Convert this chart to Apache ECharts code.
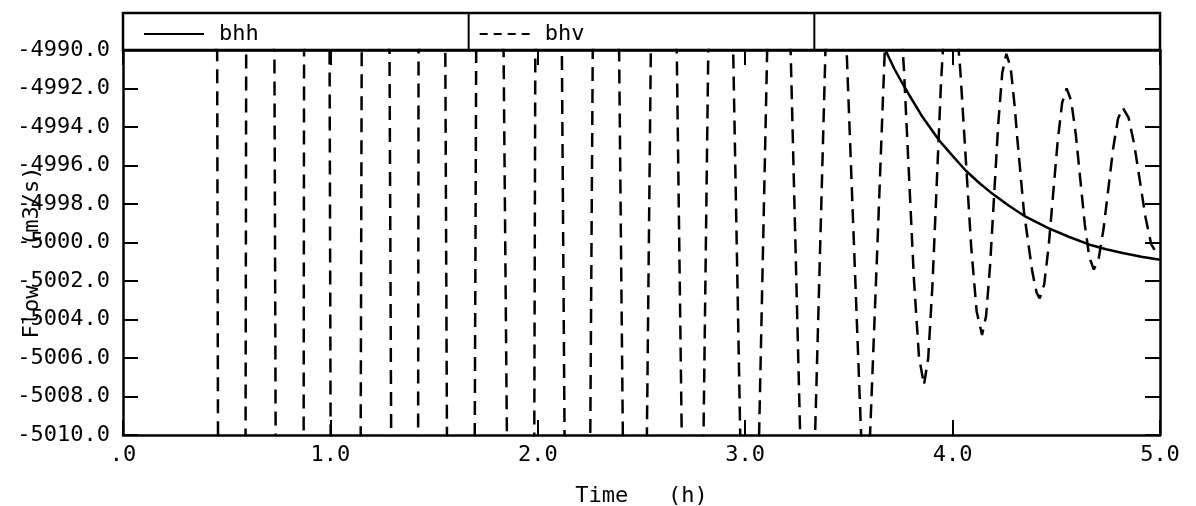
<!DOCTYPE html>
<html>
<head>
<meta charset="utf-8">
<script src="https://cdn.jsdelivr.net/npm/echarts@6/dist/echarts.min.js"></script>
<style>
html,body{margin:0;padding:0;background:#fff;}
#chart{width:1196px;height:506px;}
</style>
</head>
<body>
<div id="chart"></div>
<script>
// ---- data ----
const seriesNames = ['bhh', 'bhv'];
const xTickValues = [0, 1, 2, 3, 4, 5];
const xTickLabels = ['.0', '1.0', '2.0', '3.0', '4.0', '5.0'];
const yTickValues = [-5010, -5008, -5006, -5004, -5002, -5000, -4998, -4996, -4994, -4992, -4990];
const yTickLabels = ['-5010.0', '-5008.0', '-5006.0', '-5004.0', '-5002.0', '-5000.0', '-4998.0', '-4996.0', '-4994.0', '-4992.0', '-4990.0'];

// bhh (solid)
const bhhTime = [3.676, 3.72, 3.772, 3.85, 3.934, 4.0, 4.063, 4.13, 4.191, 4.27, 4.352, 4.464, 4.56, 4.657, 4.74, 4.82, 4.91, 5.0];
const bhhFlow = [-4990.0, -4991.0, -4992.0, -4993.4, -4994.68, -4995.5, -4996.26, -4996.92, -4997.46, -4998.08, -4998.66, -4999.27, -4999.7, -5000.1, -5000.35, -5000.55, -5000.74, -5000.9];

// bhv (dashed): crossing points of the clipped swings, then the visible damped waves
const bhvTime = [
  0.000,
  0.454, 0.458, 0.525,
  0.591, 0.594, 0.662,
  0.730, 0.736, 0.803,
  0.871, 0.873, 0.935,
  0.996, 1.001, 1.073,
  1.146, 1.151, 1.218,
  1.285, 1.293, 1.358,
  1.423, 1.425, 1.490,
  1.554, 1.562, 1.629,
  1.696, 1.703, 1.769,
  1.835, 1.851, 1.917,
  1.983, 1.988, 2.052,
  2.116, 2.129, 2.191,
  2.253, 2.265, 2.329,
  2.392, 2.410, 2.468,
  2.526, 2.545, 2.608,
  2.670, 2.694, 2.747,
  2.799, 2.822, 2.882,
  2.942, 2.976, 3.022,
  3.067, 3.106, 3.163,
  3.219, 3.265, 3.301,
  3.337, 3.387, 3.438,
  3.489, 3.524, 3.559, 3.580,
  3.602, 3.638, 3.673, 3.717,
  3.7412, 3.7653, 3.7895, 3.8137, 3.8378, 3.862,
  3.8825, 3.903, 3.9235, 3.944, 3.9645, 3.985,
  4.0112, 4.0373, 4.0635, 4.0897, 4.1158, 4.142,
  4.1615, 4.181, 4.2005, 4.22, 4.2395, 4.259,
  4.28, 4.30, 4.312, 4.344, 4.384, 4.405, 4.420,
  4.4417, 4.4633, 4.485, 4.5067, 4.5283, 4.550,
  4.5718, 4.5937, 4.6155, 4.6373, 4.6592, 4.681,
  4.7043, 4.7277, 4.751, 4.7743, 4.7977, 4.821,
  4.8483, 4.8757, 4.903, 4.9303, 4.9577, 4.985,
  5.0
];
const bhvFlow = [
  -4985.0,
  -4990.0, -5010.0, -5012.0,
  -5010.0, -4990.0, -4988.0,
  -4990.0, -5010.0, -5012.0,
  -5010.0, -4990.0, -4988.0,
  -4990.0, -5010.0, -5012.0,
  -5010.0, -4990.0, -4988.0,
  -4990.0, -5010.0, -5012.0,
  -5010.0, -4990.0, -4988.0,
  -4990.0, -5010.0, -5012.0,
  -5010.0, -4990.0, -4988.0,
  -4990.0, -5010.0, -5012.0,
  -5010.0, -4990.0, -4988.0,
  -4990.0, -5010.0, -5012.0,
  -5010.0, -4990.0, -4988.0,
  -4990.0, -5010.0, -5012.0,
  -5010.0, -4990.0, -4988.0,
  -4990.0, -5010.0, -5012.0,
  -5010.0, -4990.0, -4988.0,
  -4990.0, -5010.0, -5011.5,
  -5010.0, -4990.0, -4988.5,
  -4990.0, -5010.0, -5011.0,
  -5010.0, -4990.0, -4987.5,
  -4990.0, -5000.0, -5010.0, -5010.5,
  -5010.0, -5000.0, -4990.0, -4985.5,
  -4986.97, -4990.98, -4996.45, -5001.93, -5005.93, -5007.4,
  -5006.0, -5002.18, -4996.95, -4991.73, -4987.9, -4986.5,
  -4987.73, -4991.08, -4995.65, -5000.23, -5003.57, -5004.8,
  -5003.82, -5001.15, -4997.5, -4993.85, -4991.18, -4990.2,
  -4990.9, -4993.0, -4994.6, -4998.4, -5001.5, -5002.6, -5002.9,
  -5002.17, -5000.18, -4997.45, -4994.73, -4992.73, -4992.0,
  -4992.63, -4994.35, -4996.7, -4999.05, -5000.77, -5001.4,
  -5000.84, -4999.3, -4997.2, -4995.1, -4993.56, -4993.0,
  -4993.51, -4994.9, -4996.8, -4998.7, -5000.09, -5000.6,
  -5000.55
];

// ---- layout ----
const FONT = '"DejaVu Sans Mono", "Liberation Mono", monospace';
const FS = 22;
const G = { left: 123, top: 50, width: 1037, height: 385 };
const legendTop = 13;

const chart = echarts.init(document.getElementById('chart'), null, { renderer: 'canvas' });

const axisLineStyle = { color: '#000', width: 2.5 };
const tickStyle = { color: '#000', width: 2 };

const xLabel = v => { const i = xTickValues.indexOf(Math.round(v * 1000) / 1000); return i >= 0 ? xTickLabels[i] : ''; };
const yLabel = v => { const i = yTickValues.indexOf(Math.round(v)); return i >= 0 ? yTickLabels[i] : ''; };

const cellW = G.width / 3;
const n = Math.min(bhvTime.length, bhvFlow.length);

chart.setOption({
  animation: false,
  backgroundColor: '#fff',
  grid: { left: G.left, top: G.top, width: G.width, height: G.height, show: false, containLabel: false, outerBoundsMode: 'none' },
  legend: [
    {
      data: [seriesNames[0]], left: G.left + 15, top: legendTop + 5,
      itemWidth: 60, itemHeight: 16,
      textStyle: { fontFamily: FONT, fontSize: FS, color: '#000', padding: [0, 0, 0, 10] },
      itemStyle: { opacity: 0 },
      lineStyle: { width: 2, type: 'solid', color: '#000' }
    },
    {
      data: [seriesNames[1]], left: G.left + cellW + 5, top: legendTop + 5,
      itemWidth: 50, itemHeight: 16,
      textStyle: { fontFamily: FONT, fontSize: FS, color: '#000', padding: [0, 0, 0, 10] },
      itemStyle: { opacity: 0 },
      lineStyle: { width: 2, type: [8, 6], color: '#000' }
    }
  ],
  graphic: [
    { type: 'rect', shape: { x: G.left, y: legendTop, width: G.width, height: G.top - legendTop },
      style: { fill: null, stroke: '#000', lineWidth: 2.5 }, silent: true },
    { type: 'line', shape: { x1: G.left + cellW, y1: legendTop, x2: G.left + cellW, y2: G.top },
      style: { stroke: '#000', lineWidth: 2 }, silent: true },
    { type: 'line', shape: { x1: G.left + 2 * cellW, y1: legendTop, x2: G.left + 2 * cellW, y2: G.top },
      style: { stroke: '#000', lineWidth: 2 }, silent: true }
  ],
  xAxis: [
    {
      type: 'value', min: 0, max: 5, interval: 1, position: 'bottom',
      name: 'Time   (h)', nameLocation: 'middle', nameGap: 50, nameMoveOverlap: false,
      nameTextStyle: { fontFamily: FONT, fontSize: FS, color: '#000' },
      axisLine: { show: true, onZero: false, lineStyle: axisLineStyle },
      axisTick: { show: true, inside: true, length: 15, lineStyle: tickStyle },
      axisLabel: { show: true, formatter: xLabel, fontFamily: FONT, fontSize: FS, color: '#000', margin: 9, showMinLabel: true, showMaxLabel: true },
      splitLine: { show: false }
    },
    {
      type: 'value', min: 0, max: 5, interval: 1, position: 'top',
      axisLine: { show: true, onZero: false, lineStyle: axisLineStyle },
      axisTick: { show: true, inside: true, length: 15, lineStyle: tickStyle },
      axisLabel: { show: false },
      splitLine: { show: false }
    }
  ],
  yAxis: [
    {
      type: 'value', min: -5010, max: -4990, interval: 2, position: 'left',
      name: 'Flow   (m3/s)', nameLocation: 'middle', nameGap: 80, nameRotate: 90, nameMoveOverlap: false,
      nameTextStyle: { fontFamily: FONT, fontSize: FS, color: '#000', padding: [0, 20, 0, 0] },
      axisLine: { show: true, onZero: false, lineStyle: axisLineStyle },
      axisTick: { show: true, inside: true, length: 15, lineStyle: tickStyle },
      axisLabel: { show: true, formatter: yLabel, fontFamily: FONT, fontSize: FS, color: '#000', margin: 13, showMinLabel: true, showMaxLabel: true },
      splitLine: { show: false }
    },
    {
      type: 'value', min: -5010, max: -4990, interval: 2, position: 'right',
      axisLine: { show: true, onZero: false, lineStyle: axisLineStyle },
      axisTick: { show: true, inside: true, length: 15, lineStyle: tickStyle },
      axisLabel: { show: false },
      splitLine: { show: false }
    }
  ],
  series: [
    {
      name: seriesNames[0], type: 'line', xAxisIndex: 0, yAxisIndex: 0,
      data: bhhTime.map((t, i) => [t, bhhFlow[i]]),
      symbol: 'none', smooth: false, clip: true,
      lineStyle: { color: '#000', width: 2.5, type: 'solid', join: 'round' },
      itemStyle: { color: '#000' }
    },
    {
      name: seriesNames[1], type: 'line', xAxisIndex: 0, yAxisIndex: 0,
      data: bhvTime.slice(0, n).map((t, i) => [t, bhvFlow[i]]),
      symbol: 'none', smooth: false, clip: true,
      lineStyle: { color: '#000', width: 2.5, type: [14, 8] },
      itemStyle: { color: '#000' }
    }
  ]
});
</script>
</body>
</html>
